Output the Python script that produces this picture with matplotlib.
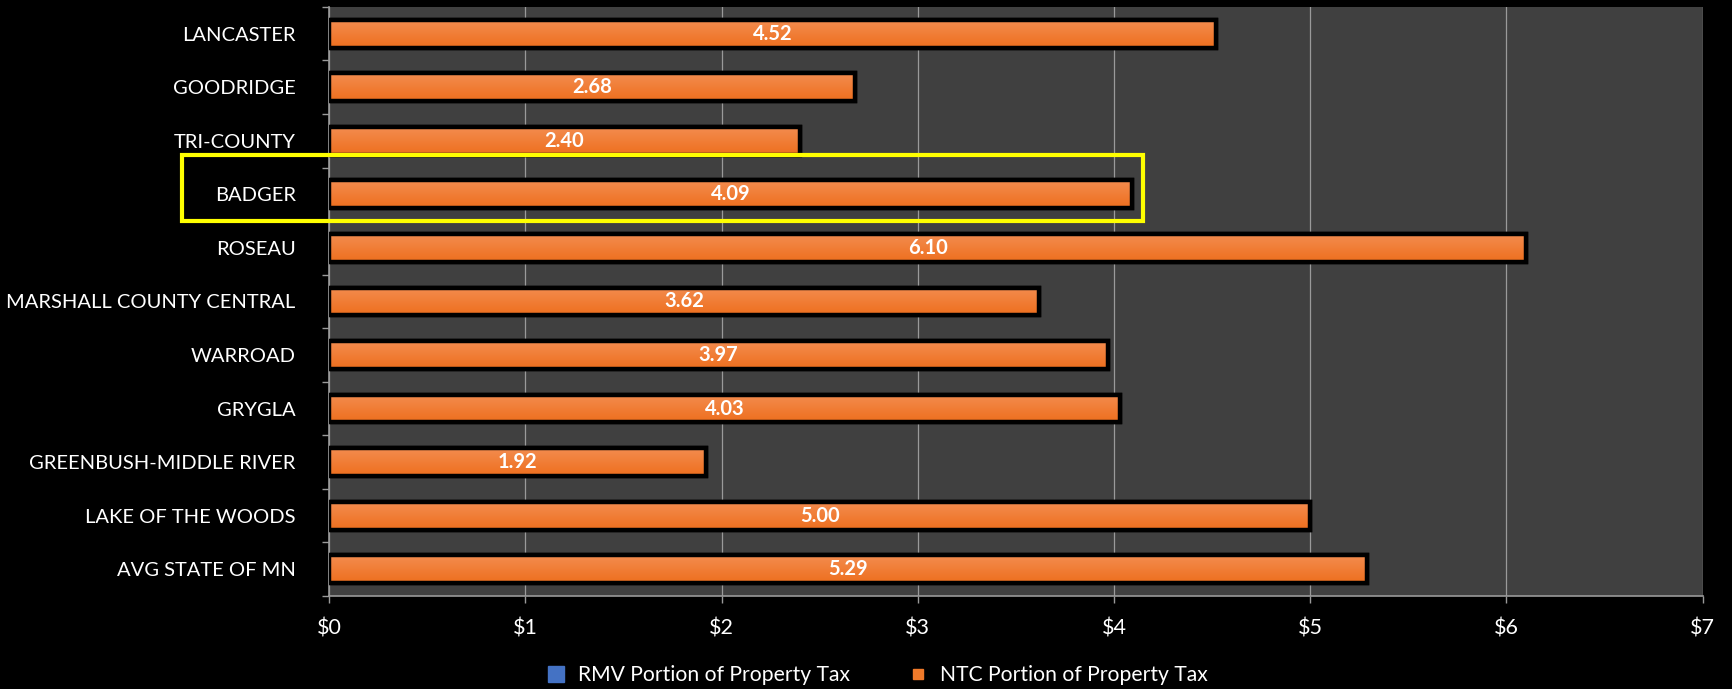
import numpy as np
import matplotlib
matplotlib.use('Agg')
import matplotlib.pyplot as plt
from matplotlib.patches import Rectangle
from matplotlib.lines import Line2D

# District names, top to bottom
districts = ['LANCASTER', 'GOODRIDGE', 'TRI-COUNTY', 'BADGER', 'ROSEAU',
             'MARSHALL COUNTY CENTRAL', 'WARROAD', 'GRYGLA',
             'GREENBUSH-MIDDLE RIVER', 'LAKE OF THE WOODS', 'AVG STATE OF MN']
# RMV portion (not visible in the chart, all zero)
rmv_portion = [0, 0, 0, 0, 0, 0, 0, 0, 0, 0, 0]
# NTC portion of property tax
ntc_portion = [4.52, 2.68, 2.40, 4.09, 6.10, 3.62, 3.97, 4.03, 1.92, 5.00, 5.29]
x_ticks = [0, 1, 2, 3, 4, 5, 6, 7]
x_tick_labels = ['$0', '$1', '$2', '$3', '$4', '$5', '$6', '$7']
highlight = 'BADGER'

plt.rcParams['font.family'] = ['Lato', 'DejaVu Sans']

fig = plt.figure(figsize=(17.32, 6.89), dpi=100, facecolor='black')
ax = fig.add_axes([0.190, 0.135, 0.793, 0.855])
ax.set_facecolor('#404040')

y = np.arange(len(districts))
bar_h = 0.52

# blue RMV series (zero width)
ax.barh(y, rmv_portion, height=bar_h, color='#4472C4', linewidth=0, zorder=2)
# orange NTC series stacked on RMV
bars = ax.barh(y, ntc_portion, left=rmv_portion, height=bar_h, color='#F07A2A',
               edgecolor='black', linewidth=3.2, zorder=2)

# vertical gradient fill on each bar
grad = np.linspace(0, 1, 64).reshape(-1, 1)
cmap = matplotlib.colors.LinearSegmentedColormap.from_list('org', ['#F38C4F', '#EE6F1E'])
for b in bars:
    x0, y0 = b.get_x(), b.get_y()
    w, h = b.get_width(), b.get_height()
    im = ax.imshow(grad, cmap=cmap, aspect='auto', extent=(x0, x0 + w, y0 + h, y0),
                   zorder=3, interpolation='bilinear')
    im.set_clip_path(b)
ax.barh(y, ntc_portion, left=rmv_portion, height=bar_h, fill=False,
        edgecolor='black', linewidth=3.2, zorder=4)

# value labels
for yi, r, v in zip(y, rmv_portion, ntc_portion):
    ax.text(r + v / 2, yi, f'{v:.2f}', color='white', fontsize=14.5, fontweight='bold',
            ha='center', va='center', zorder=5)

ax.set_xlim(0, 7)
ax.set_ylim(len(districts) - 0.5, -0.5)
ax.set_xticks(x_ticks)
ax.set_xticklabels(x_tick_labels)
ax.set_yticks(y)
ax.set_yticklabels(districts)
ax.set_yticks(np.arange(len(districts) + 1) - 0.5, minor=True)

ax.grid(axis='x', color='#9a9a9a', linewidth=0.9, zorder=1)
ax.set_axisbelow(True)

for side in ['top', 'right']:
    ax.spines[side].set_visible(False)
for side in ['left', 'bottom']:
    ax.spines[side].set_color('#9a9a9a')
    ax.spines[side].set_linewidth(1.2)

ax.tick_params(axis='y', which='major', length=0, pad=24, labelcolor='white', labelsize=14.5)
ax.tick_params(axis='y', which='minor', length=5, color='#9a9a9a', width=1)
ax.tick_params(axis='x', which='major', length=5, color='#9a9a9a', width=1,
               labelcolor='white', labelsize=15.5, pad=11)

# yellow box around the highlighted district
hi = districts.index(highlight)
box = Rectangle((-0.75, hi - 0.74), 4.9, 1.23, transform=ax.transData, fill=False,
                edgecolor='#FFFF00', linewidth=3, clip_on=False, zorder=6)
ax.add_patch(box)

handles = [Line2D([], [], marker='s', linestyle='none', markersize=11, color='#4472C4'),
           Line2D([], [], marker='s', linestyle='none', markersize=7, color='#F07A2A')]
fig.legend(handles, ['RMV Portion of Property Tax', 'NTC Portion of Property Tax'],
           loc='center', bbox_to_anchor=(0.503, 0.02), ncol=2, frameon=False,
           fontsize=15.2, labelcolor='white', handletextpad=0.05, columnspacing=2.2)

plt.savefig('out.png', facecolor='black')
